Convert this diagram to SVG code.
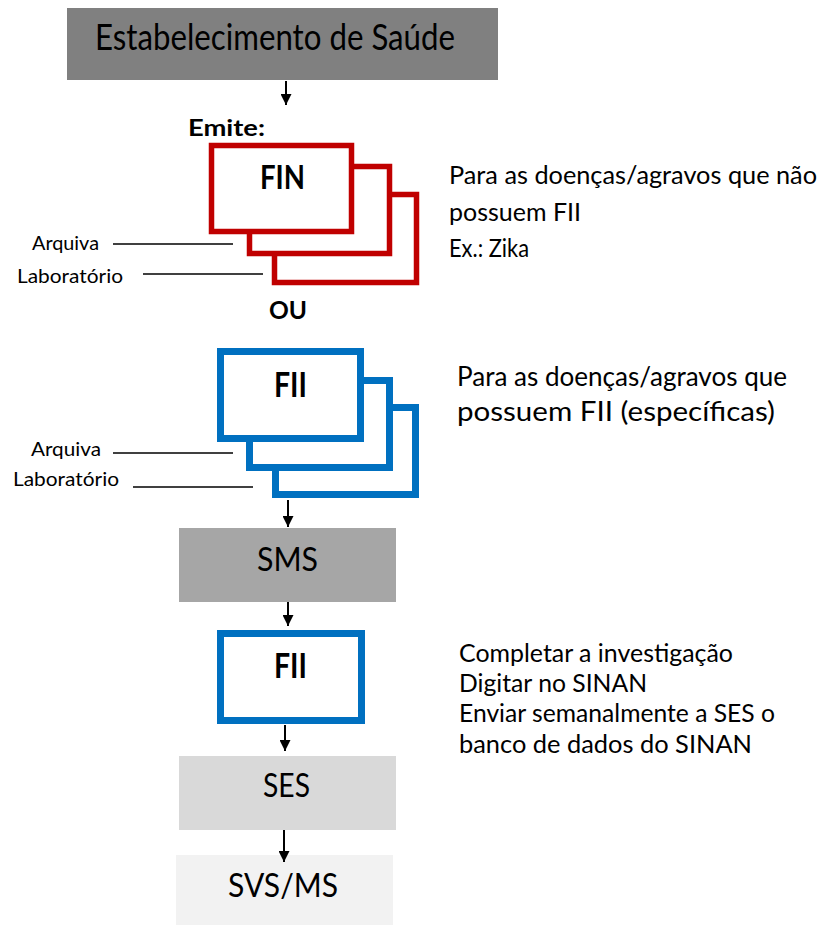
<svg xmlns="http://www.w3.org/2000/svg" width="827" height="925" viewBox="0 0 827 925">
<defs>
<style>
.t{font-family:Lato,"Liberation Sans",sans-serif;fill:#000}
.b{font-family:Lato,"Liberation Sans",sans-serif;font-weight:bold;fill:#000}
.red{fill:#fff;stroke:#C00000;stroke-width:5.5}
.blue{fill:#fff;stroke:#0070C0;stroke-width:7}
.ln{stroke:#000;stroke-width:1.6;fill:none}
.ar{stroke:#000;stroke-width:2;fill:none;marker-end:url(#ah)}
</style>
<marker id="ah" viewBox="0 0 10 10" refX="10" refY="5" markerWidth="5.5" markerHeight="5.5" markerUnits="strokeWidth" orient="auto">
<path d="M0,0 L10,5 L0,10 z" fill="#000"/>
</marker>
</defs>
<rect width="827" height="925" fill="#fff"/>

<g id="estabelecimento">
<rect x="67" y="8" width="431" height="72" fill="#808080"/>
<text class="t" x="95" y="50" font-size="36" textLength="360" lengthAdjust="spacingAndGlyphs">Estabelecimento de Saúde</text>
</g>

<g id="emite">
<text class="b" x="188" y="136" font-size="23" textLength="77" lengthAdjust="spacingAndGlyphs">Emite:</text>
</g>

<g id="fin">
<rect class="red" x="274.5" y="194.5" width="142" height="88"/>
<rect class="red" x="249.5" y="166.5" width="140" height="87"/>
<rect class="red" x="211.5" y="145.5" width="140" height="86"/>
<text class="b" x="260" y="189" font-size="33" textLength="45" lengthAdjust="spacingAndGlyphs">FIN</text>
</g>

<g id="fin-labels">
<text class="t" x="32" y="250" font-size="20" textLength="67" lengthAdjust="spacingAndGlyphs">Arquiva</text>
<text class="t" x="17" y="283" font-size="20" textLength="106" lengthAdjust="spacingAndGlyphs">Laboratório</text>
</g>

<g id="ou">
<text class="b" x="269" y="319" font-size="25" textLength="38" lengthAdjust="spacingAndGlyphs">OU</text>
</g>

<g id="fii-stack">
<rect class="blue" x="275.5" y="407.5" width="140" height="87"/>
<rect class="blue" x="249.5" y="380.5" width="140" height="87"/>
<rect class="blue" x="220.5" y="351.5" width="140" height="87"/>
<text class="b" x="274" y="397" font-size="34" textLength="33" lengthAdjust="spacingAndGlyphs">FII</text>
</g>

<g id="fii-labels">
<text class="t" x="31" y="456" font-size="20" textLength="70" lengthAdjust="spacingAndGlyphs">Arquiva</text>
<text class="t" x="13" y="486" font-size="20" textLength="106" lengthAdjust="spacingAndGlyphs">Laboratório</text>
</g>

<g id="sms">
<rect x="179" y="528" width="217" height="74" fill="#A6A6A6"/>
<text class="t" x="257" y="571" font-size="33" textLength="61" lengthAdjust="spacingAndGlyphs">SMS</text>
</g>

<g id="fii-single">
<rect class="blue" x="220.5" y="633.5" width="141" height="87"/>
<text class="b" x="274" y="678" font-size="34" textLength="33" lengthAdjust="spacingAndGlyphs">FII</text>
</g>

<g id="ses">
<rect x="179" y="756" width="217" height="74" fill="#D9D9D9"/>
<text class="t" x="263" y="797" font-size="33" textLength="47" lengthAdjust="spacingAndGlyphs">SES</text>
</g>

<g id="svsms">
<rect x="176" y="855" width="217" height="70" fill="#F2F2F2"/>
<text class="t" x="228" y="897" font-size="33" textLength="110" lengthAdjust="spacingAndGlyphs">SVS/MS</text>
</g>

<g id="note-fin">
<text class="t" x="449" y="184" font-size="25.5" textLength="368" lengthAdjust="spacingAndGlyphs">Para as doenças/agravos que não</text>
<text class="t" x="449" y="221" font-size="25.5" textLength="132" lengthAdjust="spacingAndGlyphs">possuem FII</text>
<text class="t" x="449" y="257" font-size="25.5" textLength="80" lengthAdjust="spacingAndGlyphs">Ex.: Zika</text>
</g>

<g id="note-fii">
<text class="t" x="457" y="386" font-size="27" textLength="330" lengthAdjust="spacingAndGlyphs">Para as doenças/agravos que</text>
<text class="t" x="457" y="421" font-size="27" textLength="318" lengthAdjust="spacingAndGlyphs">possuem FII (específicas)</text>
</g>

<g id="note-sms">
<text class="t" x="459" y="662" font-size="25.5" textLength="274" lengthAdjust="spacingAndGlyphs">Completar a investigação</text>
<text class="t" x="459" y="692" font-size="25.5" textLength="188" lengthAdjust="spacingAndGlyphs">Digitar no SINAN</text>
<text class="t" x="459" y="722" font-size="25.5" textLength="316" lengthAdjust="spacingAndGlyphs">Enviar semanalmente a SES o</text>
<text class="t" x="459" y="753" font-size="25.5" textLength="293" lengthAdjust="spacingAndGlyphs">banco de dados do SINAN</text>
</g>

<g id="connectors">
<line class="ar" x1="286" y1="81" x2="286" y2="105"/>
<line class="ar" x1="288" y1="500" x2="288" y2="527"/>
<line class="ar" x1="288" y1="602" x2="288" y2="626"/>
<line class="ar" x1="285" y1="725" x2="285" y2="751"/>
<line class="ar" x1="284" y1="830" x2="284" y2="862"/>
<line class="ln" x1="113" y1="244" x2="233" y2="244"/>
<line class="ln" x1="143" y1="274" x2="263" y2="274"/>
<line class="ln" x1="113" y1="453" x2="233" y2="453"/>
<line class="ln" x1="133" y1="487" x2="253" y2="487"/>
</g>
</svg>
